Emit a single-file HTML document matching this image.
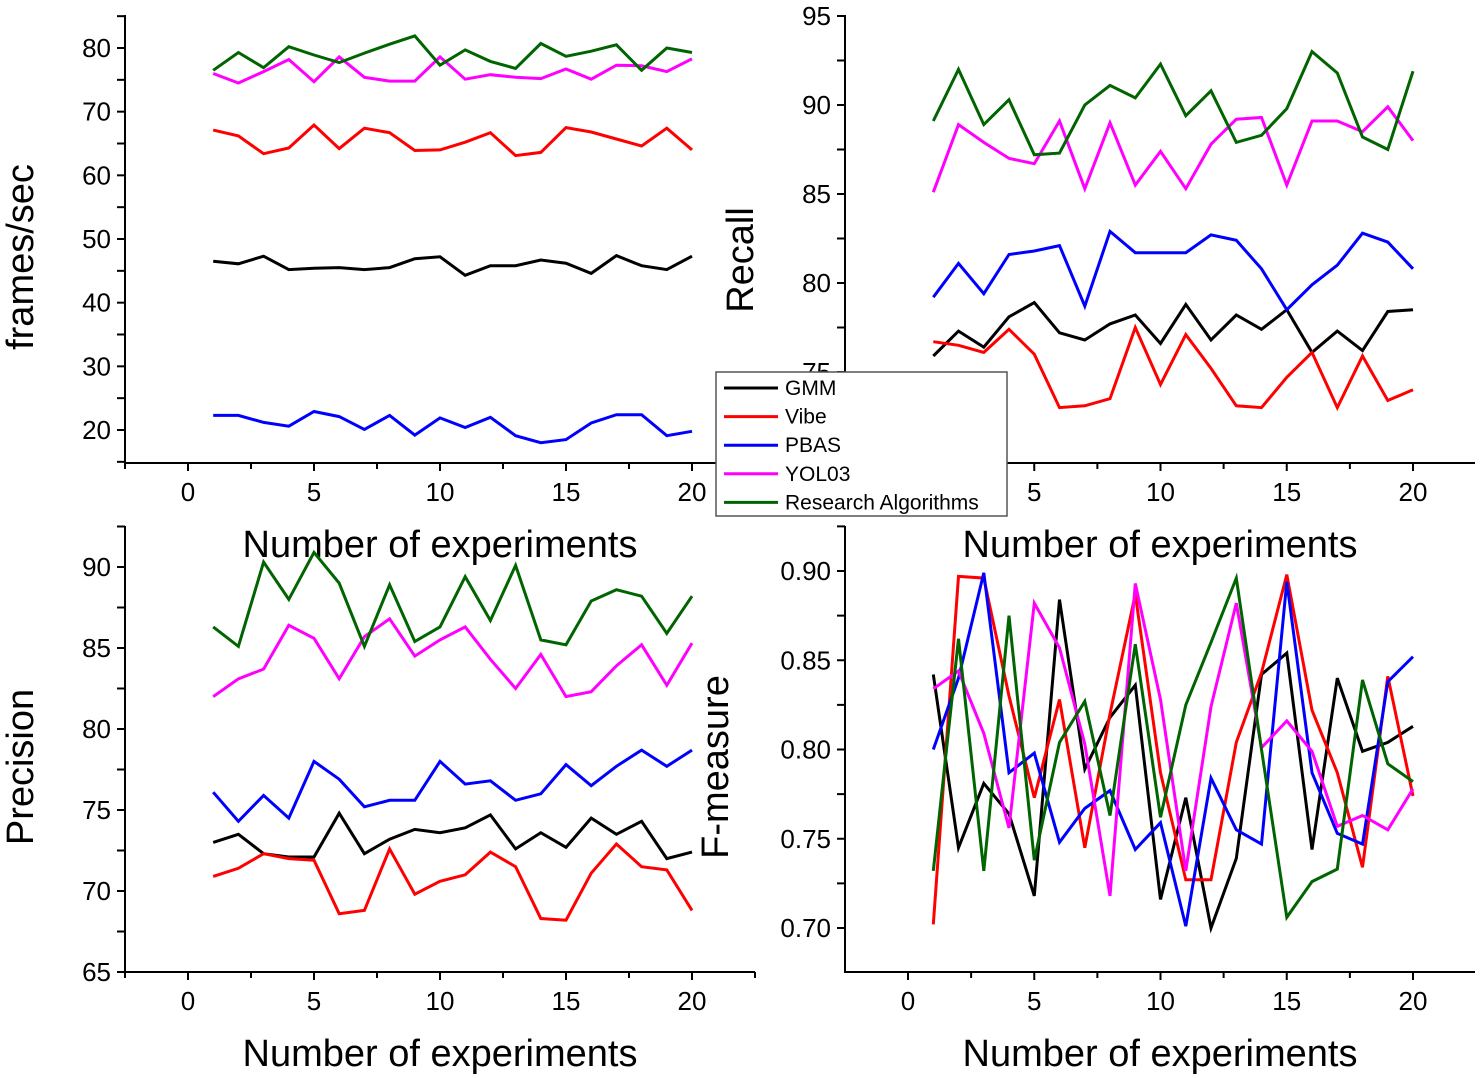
<!DOCTYPE html>
<html><head><meta charset="utf-8"><style>
html,body{margin:0;padding:0;background:#fff;}
svg{display:block;font-family:"Liberation Sans",Arial,sans-serif;}
</style></head>
<body>
<svg id="chart" width="1480" height="1078" viewBox="0 0 1480 1078" xmlns="http://www.w3.org/2000/svg"></svg>
<script>
const experiments = [1,2,3,4,5,6,7,8,9,10,11,12,13,14,15,16,17,18,19,20];
const seriesNames = ["GMM","Vibe","PBAS","YOL03","Research Algorithms"];
const seriesColors = ["#000000","#ff0000","#0000ff","#ff00ff","#006400"];

const fpsGMM = [46.5,46.1,47.3,45.2,45.4,45.5,45.2,45.5,46.9,47.2,44.3,45.8,45.8,46.7,46.2,44.6,47.4,45.8,45.2,47.3];
const fpsVibe = [67.1,66.2,63.4,64.3,67.9,64.2,67.4,66.7,63.9,64.0,65.2,66.7,63.1,63.6,67.5,66.8,65.7,64.6,67.4,64.0];
const fpsPBAS = [22.3,22.3,21.2,20.6,22.9,22.1,20.1,22.3,19.2,21.9,20.4,22.0,19.1,18.0,18.5,21.1,22.4,22.4,19.1,19.8];
const fpsYOLO = [76.0,74.5,76.3,78.2,74.7,78.6,75.4,74.8,74.8,78.6,75.1,75.8,75.4,75.2,76.7,75.1,77.3,77.2,76.3,78.3];
const fpsRA = [76.5,79.3,76.9,80.2,78.9,77.7,79.2,80.6,81.9,77.3,79.7,77.9,76.8,80.7,78.7,79.5,80.5,76.5,80.0,79.3];

const recGMM = [75.9,77.3,76.4,78.1,78.9,77.2,76.8,77.7,78.2,76.6,78.8,76.8,78.2,77.4,78.5,76.1,77.3,76.2,78.4,78.5];
const recVibe = [76.7,76.5,76.1,77.4,76.0,73.0,73.1,73.5,77.5,74.3,77.1,75.2,73.1,73.0,74.7,76.1,73.0,75.9,73.4,74.0];
const recPBAS = [79.2,81.1,79.4,81.6,81.8,82.1,78.7,82.9,81.7,81.7,81.7,82.7,82.4,80.8,78.5,79.9,81.0,82.8,82.3,80.8];
const recYOLO = [85.1,88.9,87.9,87.0,86.7,89.1,85.3,89.0,85.5,87.4,85.3,87.8,89.2,89.3,85.5,89.1,89.1,88.5,89.9,88.0];
const recRA = [89.1,92.0,88.9,90.3,87.2,87.3,90.0,91.1,90.4,92.3,89.4,90.8,87.9,88.3,89.8,93.0,91.8,88.2,87.5,91.9];

const preGMM = [73.0,73.5,72.3,72.1,72.1,74.8,72.3,73.2,73.8,73.6,73.9,74.7,72.6,73.6,72.7,74.5,73.5,74.3,72.0,72.4];
const preVibe = [70.9,71.4,72.3,72.0,71.9,68.6,68.8,72.6,69.8,70.6,71.0,72.4,71.5,68.3,68.2,71.1,72.9,71.5,71.3,68.8];
const prePBAS = [76.1,74.3,75.9,74.5,78.0,76.9,75.2,75.6,75.6,78.0,76.6,76.8,75.6,76.0,77.8,76.5,77.7,78.7,77.7,78.7];
const preYOLO = [82.0,83.1,83.7,86.4,85.6,83.1,85.7,86.8,84.5,85.5,86.3,84.3,82.5,84.6,82.0,82.3,83.9,85.2,82.7,85.3];
const preRA = [86.3,85.1,90.3,88.0,90.9,89.0,85.1,88.9,85.4,86.3,89.4,86.7,90.1,85.5,85.2,87.9,88.6,88.2,85.9,88.2];

const fmGMM = [0.842,0.745,0.781,0.764,0.718,0.884,0.789,0.818,0.836,0.716,0.773,0.700,0.739,0.842,0.854,0.744,0.840,0.799,0.804,0.813];
const fmVibe = [0.702,0.897,0.896,0.830,0.773,0.828,0.745,0.820,0.887,0.787,0.727,0.727,0.804,0.843,0.898,0.822,0.787,0.734,0.841,0.774];
const fmPBAS = [0.800,0.840,0.899,0.787,0.798,0.748,0.767,0.777,0.744,0.759,0.701,0.784,0.755,0.747,0.894,0.787,0.753,0.747,0.838,0.852];
const fmYOLO = [0.834,0.844,0.809,0.756,0.882,0.857,0.803,0.718,0.893,0.828,0.732,0.824,0.882,0.801,0.816,0.799,0.757,0.763,0.755,0.778];
const fmRA = [0.732,0.862,0.732,0.875,0.738,0.804,0.827,0.763,0.859,0.762,0.825,0.860,0.896,0.800,0.706,0.726,0.733,0.839,0.792,0.782];

const xTicks = [0,5,10,15,20];
const fpsTicks = [20,30,40,50,60,70,80];
const recTicks = [75,80,85,90,95];
const preTicks = [65,70,75,80,85,90];
const fmTicks = [0.70,0.75,0.80,0.85,0.90];

const NS = "http://www.w3.org/2000/svg";
const svg = document.getElementById("chart");
function mk(tag, attrs, parent){
  const e = document.createElementNS(NS, tag);
  for (const k in attrs) e.setAttribute(k, attrs[k]);
  (parent||svg).appendChild(e);
  return e;
}

function panel(cfg){
  const g = mk("g", {});
  
  
  const xs = v => cfg.x0 + (v - 0) * (cfg.x20 - cfg.x0) / 20;
  const ys = v => cfg.yA + (v - cfg.vA) * (cfg.yB - cfg.yA) / (cfg.vB - cfg.vA);
  const ax = mk("path", {d:`M${cfg.left} ${cfg.top} V${cfg.bottom} H${cfg.right}`, fill:"none", stroke:"#000", "stroke-width":2}, g);
  
  
  for (let v = -2.5; v <= 22.5; v += 2.5) {
    const x = xs(v);
    if (x < cfg.left || x > cfg.right + 1) continue;
    const major = Math.abs(v % 5) < 1e-6;
    mk("line", {x1:x, x2:x, y1:cfg.bottom, y2:cfg.bottom + (major?8:6), stroke:"#000", "stroke-width":2}, g);
  }
  xTicks.forEach(v => {
    const t = mk("text", {x:xs(v), y:cfg.bottom + 38, "font-size":26, "text-anchor":"middle", fill:"#000"}, g);
    t.textContent = v;
    
    
  });
  const step = cfg.ticks[1] - cfg.ticks[0];
  for (let i = 0; i < cfg.ticks.length * 2 + 2; i++) {
    const v = cfg.ticks[0] + (i - 1) * step / 2;
    const y = ys(v);
    if (y < cfg.top - 1 || y > cfg.bottom) continue;
    mk("line", {x1:cfg.left - 8, x2:cfg.left, y1:y, y2:y, stroke:"#000", "stroke-width":2}, g);
  }
  cfg.ticks.forEach(v => {
    const t = mk("text", {x:cfg.left - 14, y:ys(v) + 9, "font-size":26, "text-anchor":"end", fill:"#000"}, g);
    t.textContent = cfg.fmt ? v.toFixed(2) : v;
    
    
  });
  const xt = mk("text", {x:(cfg.left+cfg.right)/2 - 0, y:cfg.bottom + 94, "font-size":38, "text-anchor":"middle", fill:"#000"}, g);
  xt.textContent = "Number of experiments";
  
  
  const yt = mk("text", {x:0, y:0, "font-size":38, "text-anchor":"middle", fill:"#000", transform:`translate(${cfg.ytx},${cfg.yty}) rotate(-90)`}, g);
  yt.textContent = cfg.ytitle;
  
  
  cfg.series.forEach((arr, si) => {
    const d = arr.map((v, i) => (i ? "L" : "M") + xs(experiments[i]).toFixed(1) + " " + ys(v).toFixed(1)).join(" ");
    const p = mk("path", {d, fill:"none", stroke:seriesColors[si], "stroke-width":3, "stroke-linejoin":"miter"}, g);
    
    
  });
}

panel({name:"fps-panel", left:125, right:755, top:15, bottom:463, x0:188, x20:692,
  vA:80, yA:48, vB:20, yB:430, ticks:fpsTicks, ytitle:"frames/sec", ytx:33, yty:257,
  series:[fpsGMM,fpsVibe,fpsPBAS,fpsYOLO,fpsRA]});
panel({name:"recall-panel", left:845, right:1475, top:15, bottom:463, x0:908, x20:1413,
  vA:95, yA:16, vB:80, yB:283, ticks:recTicks, ytitle:"Recall", ytx:753, yty:260,
  series:[recGMM,recVibe,recPBAS,recYOLO,recRA]});
panel({name:"precision-panel", left:125, right:755, top:526, bottom:972, x0:188, x20:692,
  vA:90, yA:567, vB:65, yB:972, ticks:preTicks, ytitle:"Precision", ytx:33, yty:767,
  series:[preGMM,preVibe,prePBAS,preYOLO,preRA]});
panel({name:"fmeasure-panel", left:845, right:1475, top:526, bottom:972, x0:908, x20:1413,
  vA:0.90, yA:571, vB:0.70, yB:928, ticks:fmTicks, fmt:true, ytitle:"F-measure", ytx:728, yty:767,
  series:[fmGMM,fmVibe,fmPBAS,fmYOLO,fmRA]});

const lg = mk("g", {});


mk("rect", {x:716, y:372, width:291, height:144, fill:"#fff", stroke:"#555", "stroke-width":1.5}, lg);
seriesNames.forEach((n, i) => {
  const y = 388 + i * 28.6;
  const l = mk("line", {x1:724, x2:778, y1:y, y2:y, stroke:seriesColors[i], "stroke-width":3}, lg);
  
  
  const t = mk("text", {x:785, y:y + 7, "font-size":21, fill:"#000"}, lg);
  t.textContent = n;
  
  
});
</script>
</body></html>
